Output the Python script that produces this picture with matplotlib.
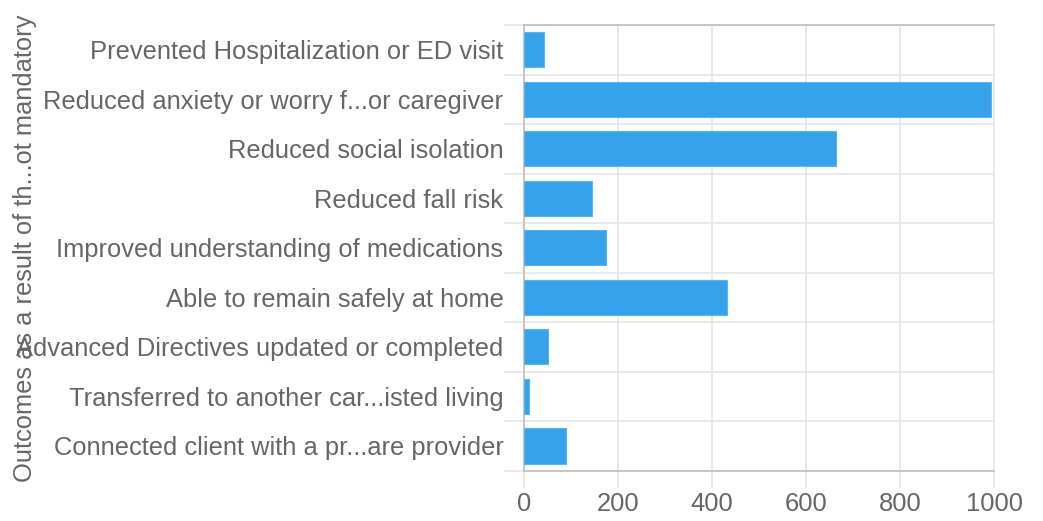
import matplotlib
matplotlib.use("Agg")
import matplotlib.pyplot as plt
import numpy as np

categories = [
    "Prevented Hospitalization or ED visit",
    "Reduced anxiety or worry f...or caregiver",
    "Reduced social isolation",
    "Reduced fall risk",
    "Improved understanding of medications",
    "Able to remain safely at home",
    "Advanced Directives updated or completed",
    "Transferred to another car...isted living",
    "Connected client with a pr...are provider",
]
values = [43, 994, 664, 145, 175, 431, 50, 9, 88]
xticks = [0, 200, 400, 600, 800, 1000]
y_title = "Outcomes as a result of th...ot mandatory"

plt.rcParams['font.family'] = ['Liberation Sans', 'DejaVu Sans']
W, H = 1043, 521
fig = plt.figure(figsize=(W / 100, H / 100), dpi=100)
ax = fig.add_axes([524.3 / W, 1 - 470.7 / H, (994 - 524.3) / W, (470.7 - 25) / H])

FS = 18.4
txt = "#666666"
grid = "#e5e5e5"
n = len(categories)
pos = np.arange(n)
ax.barh(pos, values, height=0.71, color="#36A2EB", edgecolor="#5db4ef", linewidth=0.8, zorder=3)
ax.set_ylim(n - 0.5, -0.5)
ax.set_xlim(0, 1000)

ax.set_yticks(pos)
ax.set_yticklabels(categories, fontsize=FS, color=txt)
ax.tick_params(axis='y', which='major', length=0, pad=15)
ax.set_yticks(np.arange(-0.5, n, 1.0), minor=True)
ax.tick_params(axis='y', which='minor', length=14.5, color=grid, width=1.2)
ax.grid(True, axis='y', which='minor', color=grid, linewidth=1.2, zorder=0)

ax.set_xticks(xticks)
ax.set_xticklabels([str(t) for t in xticks], fontsize=FS, color=txt)
ax.tick_params(axis='x', length=12.5, color=grid, width=1.2, pad=3)
ax.grid(True, axis='x', which='major', color=grid, linewidth=1.2, zorder=0)

for side in ['left', 'top', 'bottom']:
    ax.spines[side].set_color("#bdbdbd")
    ax.spines[side].set_linewidth(1.2)
ax.spines['right'].set_color(grid)
ax.spines['right'].set_linewidth(1.2)
ax.set_axisbelow(True)

fig.text(25 / W, 1 - 248 / H, y_title, rotation=90, ha='center', va='center',
         fontsize=FS, color=txt)

fig.savefig("out.png", dpi=100)
